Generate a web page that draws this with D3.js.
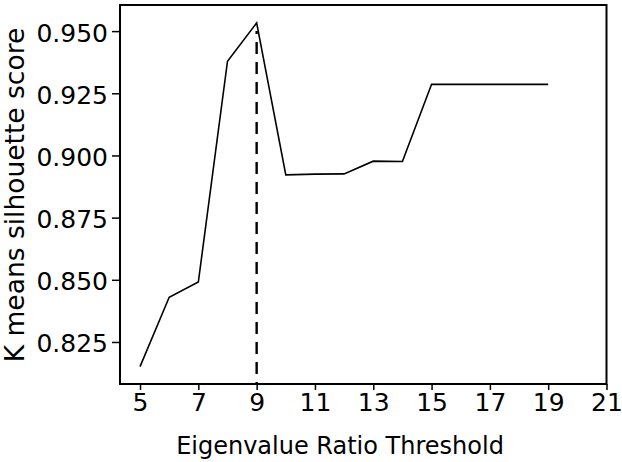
<!DOCTYPE html>
<html><head><meta charset="utf-8">
<script src="https://cdn.jsdelivr.net/npm/d3@7/dist/d3.min.js"></script>
<style>body{margin:0;background:#fff}svg{display:block}text{font-family:"DejaVu Sans",sans-serif;fill:#000}</style>
</head><body><svg id="c" width="622" height="462"></svg>
<script>
const thresholds = [5,6,7,8,9,10,11,12,13,14,15,16,17,18,19];
const scores = [0.8151,0.8430,0.8491,0.9379,0.9533,0.8922,0.8925,0.8926,0.8977,0.8976,0.9286,0.9286,0.9286,0.9286,0.9286];
const xTicks = [5,7,9,11,13,15,17,19,21];
const yTicks = [0.825,0.850,0.875,0.900,0.925,0.950];
const bestThreshold = 9;
const xLabel = "Eigenvalue Ratio Threshold";
const yLabel = "K means silhouette score";

const svg = d3.select("#c");
const L=120, R=606.5, T=5, B=384;
const x = d3.scaleLinear().domain([4.313,21]).range([L,R]);
const y = d3.scaleLinear().domain([0.8081,0.9605]).range([B,T]);

// dashed vline
svg.append("line").attr("x1",x(bestThreshold)).attr("x2",x(bestThreshold))
  .attr("y1",y(0.95)).attr("y2",B)
  .attr("stroke","#000").attr("stroke-width",2.4).attr("stroke-dasharray","12,8").attr("stroke-dashoffset",9);

// line
const line = d3.line().x((d,i)=>x(thresholds[i])).y(d=>y(d));
svg.append("path").datum(scores).attr("d",line).attr("fill","none").attr("stroke","#000").attr("stroke-width",1.6).attr("stroke-linejoin","miter");

// axes
const fs = 25;
const xa = svg.append("g").attr("transform",`translate(0,${B})`)
  .call(d3.axisBottom(x).tickValues(xTicks).tickFormat(d3.format("d")).tickSize(6).tickPadding(3));
const ya = svg.append("g").attr("transform",`translate(${L},0)`)
  .call(d3.axisLeft(y).tickValues(yTicks).tickFormat(d3.format(".3f")).tickSize(8).tickPadding(4));
[xa,ya].forEach(g=>{
  g.select(".domain").remove();
  g.selectAll(".tick line").attr("stroke","#000").attr("stroke-width",1.5);
  g.selectAll(".tick text").attr("font-size",fs).attr("font-family","DejaVu Sans").attr("fill","#000");
});
ya.selectAll(".tick text").attr("dy","0.4em");
// frame
svg.append("rect").attr("x",L).attr("y",T).attr("width",R-L).attr("height",B-T)
  .attr("fill","none").attr("stroke","#000").attr("stroke-width",2);

svg.append("text").attr("x",340).attr("y",454).attr("text-anchor","middle").attr("font-size",24).text(xLabel);
svg.append("text").attr("transform",`translate(24,195) rotate(-90)`).attr("text-anchor","middle").attr("font-size",26.5).text(yLabel);
</script></body></html>
